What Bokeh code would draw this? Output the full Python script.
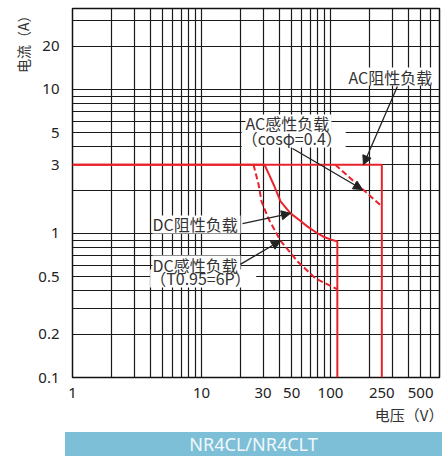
from bokeh.plotting import figure
from bokeh.models import Range1d, FixedTicker, CustomJSTickFormatter, Label, Arrow, NormalHead, Title, Div
from bokeh.layouts import column
from bokeh.embed import file_html
from bokeh.resources import INLINE

# ---- data ----
x_ticks = [1, 10, 30, 50, 100, 250, 500]
y_ticks = [0.1, 0.2, 0.5, 1, 3, 5, 10, 20]

ac_res_v = [1, 250, 250]
ac_res_i = [3, 3, 0.1]
ac_ind_v = [109, 250]
ac_ind_i = [3, 1.54]
dc_res_v = [1, 30.8, 33.5, 36.2, 41, 49, 58, 66, 77, 88, 100, 113, 113]
dc_res_i = [3, 3, 2.55, 2.19, 1.67, 1.38, 1.23, 1.12, 1.02, 0.95, 0.91, 0.88, 0.1]
dc_ind_v = [25.3, 27.7, 29.2, 33, 41, 55.5, 76.5, 113]
dc_ind_i = [3, 2.19, 1.67, 1.27, 0.89, 0.64, 0.487, 0.41]

note_texts = ["AC阻性负载", "AC感性负载", "（cosφ=0.4）", "DC阻性负载", "DC感性负载", "（T0.95=6P）"]
note_v = [138, 21.9, 20.5, 4.17, 4.17, 4.0]
note_i = [12.3, 5.81, 4.57, 1.155, 0.609, 0.487]
note_box_px = [86, 86, 104, 88, 88, 106]   # white box widths behind the notes (screen px)

arrow_start_v = [330, 50.8, 20.8, 20]
arrow_start_i = [10.5, 3.89, 1.17, 0.61]
arrow_end_v = [180, 177, 49, 41]
arrow_end_i = [3, 2.02, 1.38, 0.89]

x_grid = [m * 10 ** e for e in range(0, 3) for m in range(1, 10)]
y_grid = [round(m * 10.0 ** e, 3) for e in (-1, 0) for m in range(1, 10)] + [10, 20, 30]

RED = "#E8232B"
INK = "#333333"
CJK = "Noto Sans CJK SC"
PX_PER_DECADE_X = 129.0

p = figure(width=444, height=432, x_axis_type="log", y_axis_type="log",
           x_range=Range1d(1, 700), y_range=Range1d(0.1, 36.5),
           output_backend="svg", toolbar_location=None,
           min_border_left=72, min_border_right=5, min_border_top=8, min_border_bottom=55)
p.background_fill_color = "white"
p.border_fill_color = "white"
p.outline_line_color = "#111111"
p.outline_line_width = 1.5

fmt = "return tick.toString()"
for ax, ticks in ((p.xaxis, x_ticks), (p.yaxis, y_ticks)):
    ax.ticker = FixedTicker(ticks=ticks, minor_ticks=[])
    ax.formatter = CustomJSTickFormatter(code=fmt)
    ax.major_tick_line_color = None
    ax.minor_tick_line_color = None
    ax.axis_line_color = None
    ax.major_label_text_font = "Noto Sans"
    ax.major_label_text_font_size = "15px"
    ax.major_label_text_color = "#222222"
p.xaxis.major_label_standoff = 4
p.yaxis.major_label_standoff = 7

p.xgrid.ticker = FixedTicker(ticks=x_grid, minor_ticks=[])
p.ygrid.ticker = FixedTicker(ticks=y_grid, minor_ticks=[])
for g in (p.xgrid, p.ygrid):
    g.grid_line_color = "#1a1a1a"
    g.grid_line_width = 1.2
    g.grid_line_alpha = 1.0

# white boxes behind the notes (cover the grid)
box_cx = [v * 10 ** ((w / 2.0) / PX_PER_DECADE_X) for v, w in zip(note_v, note_box_px)]
p.rect(x=box_cx, y=note_i, width=note_box_px, height=[18] * len(note_i),
       width_units="screen", height_units="screen",
       fill_color="white", line_color=None)

p.line(ac_res_v, ac_res_i, line_color=RED, line_width=2)
p.line(ac_ind_v, ac_ind_i, line_color=RED, line_width=2, line_dash="6 3")
p.line(dc_res_v, dc_res_i, line_color=RED, line_width=2)
p.line(dc_ind_v, dc_ind_i, line_color=RED, line_width=2, line_dash="6 3")

for t, v, i in zip(note_texts, note_v, note_i):
    p.add_layout(Label(x=v, y=i, text=t, text_font=CJK, text_font_size="16px",
                       text_color=INK, text_baseline="middle", text_align="left"))

for xs, ys, xe, ye in zip(arrow_start_v, arrow_start_i, arrow_end_v, arrow_end_i):
    p.add_layout(Arrow(end=NormalHead(size=9, fill_color="#222222", line_color="#222222"),
                       x_start=xs, y_start=ys, x_end=xe, y_end=ye,
                       line_color="#222222", line_width=1.3))

ytitle = Title(text="电流（A）", align="right", text_font=CJK, text_font_size="14px",
               text_font_style="normal", text_color=INK, standoff=6)
p.add_layout(ytitle, "left")
xtitle = Title(text="电压（V）", align="right", text_font=CJK, text_font_size="15px",
               text_font_style="normal", text_color=INK, standoff=2, offset=-4)
p.add_layout(xtitle, "below")

banner = Div(
    text=('<div style="margin:0 0 0 65px;width:377px;height:24px;background:#7DBFD7;'
          'color:#F0F8FB;font-family:\'Noto Sans\';font-size:18px;line-height:24px;'
          'text-align:center;">NR4CL/NR4CLT</div>'),
    width=444, height=24, margin=0)

layout = column(p, banner, spacing=0)
open("out.html", "w").write(file_html(layout, INLINE))
